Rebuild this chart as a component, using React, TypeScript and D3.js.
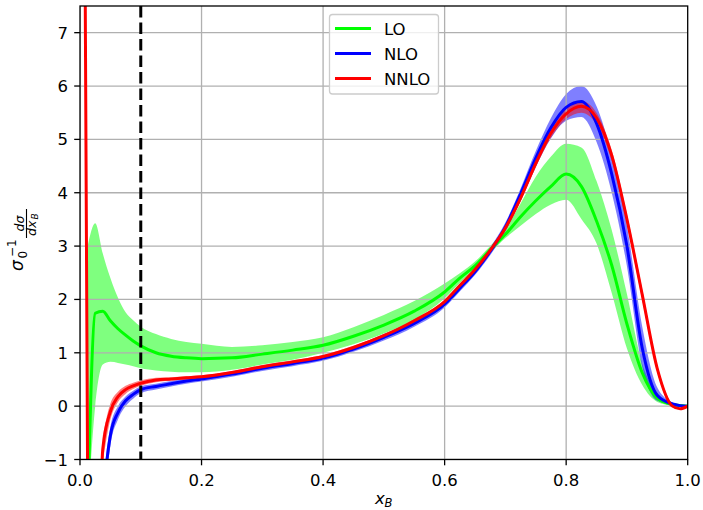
import React from 'react';
import * as d3 from 'd3';

// x_B sample points (shared by all curves)
const xB = [0.005, 0.0125, 0.025, 0.0375, 0.05, 0.0625, 0.075, 0.0875, 0.1, 0.125, 0.15, 0.175, 0.2, 0.25, 0.3, 0.35, 0.4, 0.45, 0.5, 0.55, 0.6, 0.625, 0.65, 0.675, 0.7, 0.725, 0.75, 0.775, 0.8, 0.825, 0.85, 0.875, 0.9, 0.925, 0.95, 0.975, 0.9875, 1.0];

// LO (green)
const loMid = [null, -2.07, 1.74, 1.78, 1.6, 1.45, 1.33, 1.22, 1.13, 1.0, 0.935, 0.905, 0.89, 0.905, 0.975, 1.05, 1.14, 1.31, 1.52, 1.78, 2.14, 2.4, 2.63, 2.93, 3.22, 3.55, 3.85, 4.12, 4.35, 4.12, 3.47, 2.64, 1.54, 0.63, 0.15, 0.03, 0.01, 0];
const loLo = [null, -2.0, 0.0, 0.78, 0.83, 0.81, 0.78, 0.75, 0.71, 0.67, 0.645, 0.635, 0.635, 0.68, 0.78, 0.87, 1.0, 1.16, 1.36, 1.62, 2.02, 2.31, 2.57, 2.87, 3.15, 3.38, 3.6, 3.78, 3.87, 3.51, 3.05, 2.12, 1.08, 0.4, 0.08, 0.01, 0.0, 0];
const loHi = [null, 3.0, 3.43, 2.86, 2.4, 2.03, 1.76, 1.61, 1.49, 1.35, 1.26, 1.2, 1.17, 1.11, 1.14, 1.2, 1.29, 1.48, 1.71, 1.97, 2.3, 2.49, 2.71, 3.0, 3.32, 3.8, 4.3, 4.68, 4.92, 4.85, 4.22, 3.3, 2.1, 0.8, 0.25, 0.05, 0.02, 0];

// NLO (blue)
const nloMid = [null, -15, -6, -2.0, -0.55, -0.12, 0.1, 0.22, 0.31, 0.37, 0.42, 0.47, 0.51, 0.6, 0.71, 0.8, 0.9, 1.07, 1.29, 1.55, 1.91, 2.21, 2.52, 2.9, 3.36, 3.98, 4.65, 5.22, 5.6, 5.71, 5.3, 4.35, 3.0, 1.1, 0.2, 0.04, 0.01, 0];
const nloLo = [null, -16, -7, -2.3, -0.75, -0.25, 0.0, 0.14, 0.24, 0.31, 0.37, 0.42, 0.46, 0.55, 0.66, 0.75, 0.85, 1.02, 1.23, 1.49, 1.85, 2.15, 2.46, 2.83, 3.28, 3.85, 4.48, 5.02, 5.35, 5.42, 4.95, 4.0, 2.62, 0.75, 0.1, 0.02, 0.0, 0];
const nloHi = [null, -14, -5, -1.7, -0.38, 0.0, 0.18, 0.29, 0.37, 0.42, 0.47, 0.52, 0.56, 0.65, 0.76, 0.85, 0.95, 1.12, 1.35, 1.61, 1.97, 2.27, 2.58, 2.97, 3.44, 4.08, 4.78, 5.4, 5.85, 6.0, 5.62, 4.7, 3.38, 1.5, 0.35, 0.07, 0.02, 0];

// NNLO (red)
const nnloMid = [16, -1.3, -5, -0.8, -0.1, 0.18, 0.31, 0.38, 0.43, 0.49, 0.51, 0.53, 0.55, 0.63, 0.74, 0.83, 0.93, 1.1, 1.32, 1.6, 1.96, 2.26, 2.56, 2.92, 3.34, 3.9, 4.55, 5.12, 5.48, 5.62, 5.4, 4.7, 3.5, 2.1, 0.7, 0.0, -0.05, 0];
const nnloLo = [null, null, null, -1.05, -0.25, 0.08, 0.23, 0.32, 0.38, 0.45, 0.48, 0.5, 0.52, 0.6, 0.71, 0.8, 0.9, 1.07, 1.29, 1.57, 1.93, 2.23, 2.53, 2.88, 3.29, 3.84, 4.48, 5.03, 5.38, 5.5, 5.28, 4.6, 3.4, 2.0, 0.63, -0.02, -0.06, 0];
const nnloHi = [null, null, null, -0.55, 0.05, 0.27, 0.38, 0.44, 0.48, 0.53, 0.54, 0.56, 0.58, 0.66, 0.77, 0.86, 0.96, 1.13, 1.35, 1.63, 1.99, 2.29, 2.59, 2.96, 3.39, 3.96, 4.62, 5.21, 5.58, 5.72, 5.5, 4.8, 3.6, 2.2, 0.77, 0.03, -0.04, 0];

const xTicks = [0, 0.2, 0.4, 0.6, 0.8, 1.0];
const yTicks = [-1, 0, 1, 2, 3, 4, 5, 6, 7];
const cutX = 0.1;

const series = [
  { name: 'LO', color: '#00ff00', mid: loMid, lo: loLo, hi: loHi },
  { name: 'NLO', color: '#0000ff', mid: nloMid, lo: nloLo, hi: nloHi },
  { name: 'NNLO', color: '#ff0000', mid: nnloMid, lo: nnloLo, hi: nnloHi },
];

const W = 703, H = 510;
const left = 80, right = 687.7, top = 6, bottom = 459.5;
const font = 'DejaVu Sans';
const fs = 16.5;

export default function App() {
  const x = d3.scaleLinear().domain([0, 1]).range([left, right]);
  const y = d3.scaleLinear().domain([-1, 7.5]).range([bottom, top]);

  const linePath = (vals) =>
    d3.line()
      .defined((_, i) => vals[i] != null)
      .x((_, i) => x(xB[i]))
      .y((_, i) => y(vals[i]))
      .curve(d3.curveMonotoneX)(xB);

  const bandPath = (lo, hi) =>
    d3.area()
      .defined((_, i) => lo[i] != null && hi[i] != null)
      .x((_, i) => x(xB[i]))
      .y0((_, i) => y(lo[i]))
      .y1((_, i) => y(hi[i]))
      .curve(d3.curveMonotoneX)(xB);

  const fmtX = d3.format('.1f');
  const fmtY = d3.format('d');

  return (
    <svg width={W} height={H} style={{ position: 'absolute', left: 0, top: 0, display: 'block' }} fontFamily={font}>
      <defs>
        <clipPath id="plot">
          <rect x={left} y={top} width={right - left} height={bottom - top} />
        </clipPath>
      </defs>
      <rect width={W} height={H} fill="#fff" />

      <g clipPath="url(#plot)">
        {/* uncertainty bands */}
        {series.map(s => (
          <path key={s.name + 'band'} d={bandPath(s.lo, s.hi)} fill={s.color} fillOpacity={0.5} stroke="none" />
        ))}
        {/* grid */}
        {xTicks.map(t => (
          <line key={'gx' + t} x1={x(t)} x2={x(t)} y1={top} y2={bottom} stroke="#b0b0b0" strokeWidth={1.3} />
        ))}
        {yTicks.map(t => (
          <line key={'gy' + t} x1={left} x2={right} y1={y(t)} y2={y(t)} stroke="#b0b0b0" strokeWidth={1.3} />
        ))}
        {/* central curves */}
        {series.map(s => (
          <path key={s.name} d={linePath(s.mid)} fill="none" stroke={s.color} strokeWidth={3} strokeLinejoin="round" />
        ))}
        <line x1={x(cutX)} x2={x(cutX)} y1={top} y2={bottom} stroke="#000" strokeWidth={3} strokeDasharray="11.5,5" />
      </g>

      {/* frame */}
      <rect x={left} y={top} width={right - left} height={bottom - top} fill="none" stroke="#000" strokeWidth={1.3} />

      {/* x axis */}
      {xTicks.map(t => (
        <g key={'xt' + t}>
          <line x1={x(t)} x2={x(t)} y1={bottom} y2={bottom + 5.8} stroke="#000" strokeWidth={1.3} />
          <text x={x(t)} y={bottom + 26.5} fontSize={fs} textAnchor="middle" fill="#000">{fmtX(t)}</text>
        </g>
      ))}
      {/* y axis */}
      {yTicks.map(t => (
        <g key={'yt' + t}>
          <line x1={left - 5.8} x2={left} y1={y(t)} y2={y(t)} stroke="#000" strokeWidth={1.3} />
          <text x={left - 12} y={y(t) + 6} fontSize={fs} textAnchor="end" fill="#000">{fmtY(t)}</text>
        </g>
      ))}

      {/* x label */}
      <text x={375} y={503.5} fontSize={fs} fontStyle="italic" fill="#000">x</text>
      <text x={384.5} y={507} fontSize={11.5} fontStyle="italic" fill="#000">B</text>

      {/* y label: sigma_0^-1 dsigma/dx_B */}
      <g transform="translate(0,271) rotate(-90)" fill="#000">
        <text x={0} y={22.7} fontSize={17} fontStyle="italic">σ</text>
        <text x={12.5} y={26.5} fontSize={12}>0</text>
        <text x={14} y={15.5} fontSize={12}>−1</text>
        <line x1={33} x2={62} y1={26.5} y2={26.5} stroke="#000" strokeWidth={1.1} />
        <text x={47.5} y={24} fontSize={12.5} fontStyle="italic" textAnchor="middle">dσ</text>
        <text x={35} y={35.5} fontSize={12.5} fontStyle="italic">dx</text>
        <text x={51.5} y={37.5} fontSize={9} fontStyle="italic">B</text>
      </g>

      {/* legend */}
      <rect x={329.5} y={14.5} width={109} height={79.5} rx={3} fill="#fff" fillOpacity={0.8} stroke="#cccccc" strokeWidth={1.3} />
      {series.map((s, i) => (
        <g key={'lg' + s.name}>
          <line x1={335} x2={371} y1={28.5 + i * 25} y2={28.5 + i * 25} stroke={s.color} strokeWidth={3} />
          <text x={384} y={28.5 + i * 25 + 6} fontSize={fs} fill="#000">{s.name}</text>
        </g>
      ))}
    </svg>
  );
}
